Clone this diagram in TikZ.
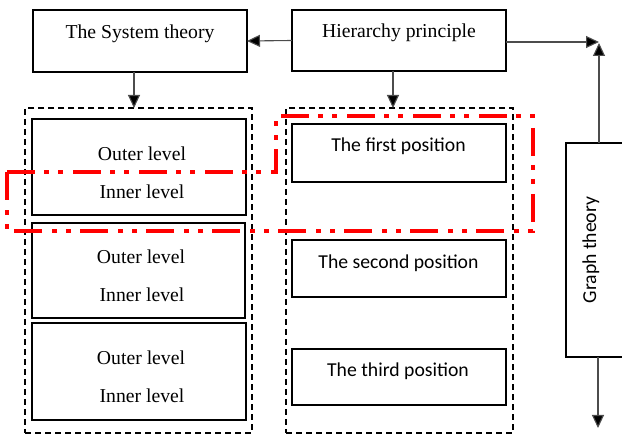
\documentclass[tikz,border=0pt]{standalone}
\usepackage{fontspec}
\setmainfont{Liberation Serif}
\newfontfamily\calfont{Carlito}
\usetikzlibrary{arrows.meta}
\tikzset{
  box/.style={draw=black, line width=1.8pt, inner sep=0pt, outer sep=0pt, fill=none},
  dbox/.style={draw=black, line width=1.6pt, dash pattern=on 6pt off 4pt, inner sep=0pt, outer sep=0pt},
  arr/.style={draw=black!70, line width=1.1pt, -{Triangle[length=13pt,width=12pt,fill=black]}},
  serif/.style={font=\fontsize{19.7}{24}\selectfont, anchor=base, inner sep=0pt},
  sans/.style={font=\calfont\fontsize{19.7}{24}\selectfont, anchor=base, inner sep=0pt},
  redline/.style={draw=red, line width=3.2pt, dash pattern=on 28pt off 9pt on 5pt off 9pt on 5pt off 10pt}
}
\begin{document}
\begin{tikzpicture}[x=1pt,y=-1pt]
\useasboundingbox (0,0) rectangle (622,435);
\clip (0,0) rectangle (622,435);
% top boxes
\node[box, minimum width=214pt, minimum height=62pt] (sys) at (140,41) {};
\node[serif] (systxt) at (140,39) {The System theory};
\node[box, minimum width=214pt, minimum height=61pt] (hier) at (399,40.5) {};
\node[serif] (hiertxt) at (399,38) {Hierarchy principle};
% graph theory
\node[box, minimum width=64pt, minimum height=214pt] (graph) at (598,250) {};
\node[sans, rotate=90] (graphtxt) at (596,250) {Graph theory};
% dashed containers
\node[dbox, minimum width=227pt, minimum height=325pt] (ldash) at (138.5,270.5) {};
\node[dbox, minimum width=227pt, minimum height=325pt] (rdash) at (399.5,270.5) {};
% left inner boxes
\node[box, minimum width=214pt, minimum height=96pt] (l1) at (139,167) {};
\node[box, minimum width=213pt, minimum height=95pt] (l2) at (138.5,270.5) {};
\node[box, minimum width=214pt, minimum height=97pt] (l3) at (139,371.5) {};
\node[serif] (o1) at (142,161) {Outer level};
\node[serif] (i1) at (142,199) {Inner level};
\node[serif] (o2) at (141,264) {Outer level};
\node[serif] (i2) at (142,302) {Inner level};
\node[serif] (o3) at (141,365) {Outer level};
\node[serif] (i3) at (142,403) {Inner level};
% right inner boxes
\node[box, minimum width=214pt, minimum height=58pt] (p1) at (399,153) {};
\node[box, minimum width=214pt, minimum height=57pt] (p2) at (399,268.5) {};
\node[box, minimum width=214pt, minimum height=56pt] (p3) at (399,377) {};
\node[sans] (p1txt) at (398.5,152) {The first position};
\node[sans] (p2txt) at (398.5,269) {The second position};
\node[sans] (p3txt) at (398,377) {The third position};
% connectors
\coordinate (lt) at (134,108);
\coordinate (rt) at (393,108);
\coordinate (tr) at (599,42);
\coordinate (trv) at (599,43);
\coordinate (gb) at (598,428);
\draw[arr] (hier.west) -- (sys.east);
\draw[arr] (sys.south -| lt) -- (lt);
\draw[arr] (hier.south -| rt) -- (rt);
\draw[arr] (hier.east |- tr) -- (tr);
\draw[arr] (graph.north -| trv) -- (trv);
\draw[arr] (graph.south) -- (gb);
% red dash-dot-dot outline
\draw[redline] (7,172) -- (276,172) -- (276,116) -- (533,116) -- (533,231) -- (7,231) -- cycle;
\end{tikzpicture}
\end{document}
